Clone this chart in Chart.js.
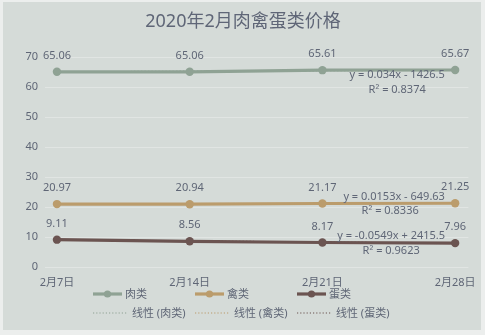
<!DOCTYPE html>
<html><head><meta charset="utf-8">
<script src="https://cdn.jsdelivr.net/npm/chart.js@4"></script>
<style>
html,body{margin:0;padding:0;background:#eceeed;}
#wrap{position:absolute;left:0;top:0;width:485px;height:335px;}
</style></head><body>
<div id="wrap"><canvas id="c" width="485" height="335"></canvas></div>
<script>
const categories = ['2月7日','2月14日','2月21日','2月28日'];
const meat = [65.06, 65.06, 65.61, 65.67];
const poultry = [20.97, 20.94, 21.17, 21.25];
const eggs = [9.11, 8.56, 8.17, 7.96];
const seriesNames = ['肉类','禽类','蛋类'];
const trendNames = ['线性 (肉类)','线性 (禽类)','线性 (蛋类)'];
const equations = ['y = 0.034x - 1426.5','y = 0.0153x - 649.63','y = -0.0549x + 2415.5'];
const rSquared = ['R² = 0.8374','R² = 0.8336','R² = 0.9623'];
const yTicks = [0,10,20,30,40,50,60,70];

const colors = ['#8fa294','#bb9c6c','#6b5451'];
const textColor = '#5f6676';
const FONT = '"Noto Sans","Noto Sans CJK SC",sans-serif';

function linearFit(vals){
  const n = vals.length;
  const mx = (n-1)/2;
  const my = vals.reduce((a,b)=>a+b,0)/n;
  let sxy=0,sxx=0;
  vals.forEach((v,i)=>{sxy+=(i-mx)*(v-my);sxx+=(i-mx)*(i-mx);});
  const b = sxy/sxx;
  return vals.map((v,i)=>my+b*(i-mx));
}
const toPts = arr => arr.map((v,i)=>({x:i,y:v}));
const series = [meat, poultry, eggs];

const datasets = [];
series.forEach((s,k)=>{
  datasets.push({label:seriesNames[k], data:toPts(s), borderColor:colors[k], backgroundColor:colors[k],
    borderWidth:3.2, pointRadius:4.2, pointBorderWidth:0, pointBackgroundColor:colors[k], order:1, isMain:true});
});
series.forEach((s,k)=>{
  datasets.push({label:trendNames[k], data:toPts(linearFit(s)), borderColor:colors[k], borderWidth:1.5,
    borderDash:[1.5,2], pointRadius:0, order:10, isMain:false});
});

const eqOffsets = [[-58,5,-58,20],[-61,-6.5,-65,8],[-64,-7,-64,8]];

const deco = {
  id:'deco',
  beforeDraw(chart){
    const ctx = chart.ctx;
    ctx.save();
    ctx.fillStyle = '#eceeed';
    ctx.fillRect(0,0,485,335);
    ctx.fillStyle = '#d5dbd8';
    ctx.fillRect(3,2,478,328);
    ctx.fillStyle = '#5f6677';
    ctx.font = '18px ' + FONT;
    ctx.textAlign = 'center';
    ctx.textBaseline = 'middle';
    ctx.fillText('2020年2月肉禽蛋类价格', 243, 22);
    ctx.restore();
  },
  afterDatasetsDraw(chart){
    const ctx = chart.ctx;
    const xs = chart.scales.x, ys = chart.scales.y;
    ctx.save();
    ctx.fillStyle = textColor;
    ctx.font = '11px ' + FONT;
    ctx.textAlign = 'center';
    ctx.textBaseline = 'middle';
    series.forEach((s)=>{
      s.forEach((v,i)=>{
        ctx.fillText(v.toFixed(2), xs.getPixelForValue(i), ys.getPixelForValue(v)-16);
      });
    });
    series.forEach((s,k)=>{
      const lx = xs.getPixelForValue(s.length-1), ly = ys.getPixelForValue(s[s.length-1]);
      const o = eqOffsets[k];
      ctx.fillText(equations[k], lx+o[0], ly+o[1]);
      ctx.fillText(rSquared[k], lx+o[2], ly+o[3]);
    });
    // legend
    const row1 = 294, row2 = 313;
    const lx0 = [93,195,297];
    ctx.textAlign = 'left';
    seriesNames.forEach((name,k)=>{
      const x = lx0[k];
      ctx.strokeStyle = colors[k]; ctx.lineWidth = 3.2;
      ctx.beginPath(); ctx.moveTo(x,row1); ctx.lineTo(x+29,row1); ctx.stroke();
      ctx.fillStyle = colors[k];
      ctx.beginPath(); ctx.arc(x+14.5,row1,3.6,0,Math.PI*2); ctx.fill();
      ctx.fillStyle = textColor;
      ctx.fillText(name, x+32, row1+0.5);
    });
    trendNames.forEach((name,k)=>{
      const x = lx0[k];
      ctx.strokeStyle = colors[k]; ctx.lineWidth = 1.2;
      ctx.setLineDash([1.2,2]);
      ctx.beginPath(); ctx.moveTo(x,row2); ctx.lineTo(x+35,row2); ctx.stroke();
      ctx.setLineDash([]);
      ctx.fillStyle = textColor;
      ctx.fillText(name, x+39, row2+0.5);
    });
    ctx.restore();
  }
};

new Chart(document.getElementById('c'), {
  type:'line',
  data:{datasets},
  options:{
    responsive:false, animation:false, devicePixelRatio:1,
    layout:{padding:{left:0,top:57,right:13,bottom:48}},
    plugins:{legend:{display:false}, title:{display:false}, tooltip:{enabled:false}},
    scales:{
      x:{type:'linear', min:-0.09, max:3.1,
        afterBuildTicks(scale){ scale.ticks = categories.map((c,i)=>({value:i})); },
        afterFit(scale){ scale.height = 20; },
        grid:{display:false, drawTicks:false}, border:{display:false},
        ticks:{padding:9, color:textColor, font:{family:FONT,size:11}, maxRotation:0, autoSkip:false,
          callback:(v)=>categories[v]}
      },
      y:{min:0, max:70,
        afterBuildTicks(scale){ scale.ticks = yTicks.map(v=>({value:v})); },
        afterFit(scale){ scale.width = 45; },
        grid:{color:'#e1e5e3', lineWidth:1, drawTicks:false}, border:{display:false},
        ticks:{padding:7, color:textColor, font:{family:FONT,size:11}}
      }
    }
  },
  plugins:[deco]
});
</script>
</body></html>
